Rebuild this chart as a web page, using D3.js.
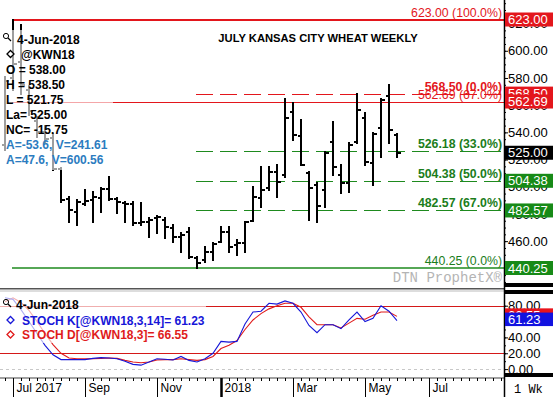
<!DOCTYPE html>
<html><head><meta charset="utf-8">
<script src="https://cdn.jsdelivr.net/npm/d3@7"></script>
<style>
html,body{margin:0;padding:0;background:#fff;}
svg{display:block;font-family:"Liberation Sans",Arial,sans-serif;}
</style></head><body><svg id="c" width="553" height="397"></svg>
<script>
// ---------- DATA ----------
const weeks = ["2017-06-26","2017-07-03","2017-07-10","2017-07-17","2017-07-24","2017-07-31","2017-08-07","2017-08-14","2017-08-21","2017-08-28",
"2017-09-04","2017-09-11","2017-09-18","2017-09-25","2017-10-02","2017-10-09","2017-10-16","2017-10-23","2017-10-30","2017-11-06",
"2017-11-13","2017-11-20","2017-11-27","2017-12-04","2017-12-11","2017-12-18","2017-12-25","2018-01-01","2018-01-08","2018-01-15",
"2018-01-22","2018-01-29","2018-02-05","2018-02-12","2018-02-19","2018-02-26","2018-03-05","2018-03-12","2018-03-19","2018-03-26",
"2018-04-02","2018-04-09","2018-04-16","2018-04-23","2018-04-30","2018-05-07","2018-05-14","2018-05-21","2018-05-28","2018-06-04"];
const openP  = [531,580,592,571,548,540,536,513,491,481.7,487.5,490.2,491.5,498.3,490.8,488,487.5,473.6,474.3,476.8,475.5,470,463.3,467,447.4,446.5,452,459.6,467,457.2,458.4,475,491.5,498.9,511.1,508.6,555,537,510,501.3,497.6,533.1,508.6,502.5,533,550.3,517.2,543,567,538];
const highP  = [581,623,619,574,551.5,545,539,513.6,492.7,490.2,497.6,496.4,498.9,507.4,491.5,489,489,487.8,476.8,478.5,476.8,471.9,465.8,469.4,448.6,455.9,458.4,470.6,470.6,460.8,474.3,500,514.7,514.7,516,564.5,561.4,549,511,502.5,525.8,547.8,516,532,568.5,554,539.3,564.3,574.8,538.5];
const lowP   = [527,571,568,553,536.8,532,512,489,474.3,471.9,486.6,474.3,481.7,490.2,480.5,474.3,472,472,463.3,465.8,462.1,459.6,452.2,447.4,440.25,444.9,446.1,459.6,452.2,449.8,452.2,474.5,485.3,497.6,492.7,507.4,534.4,516,475.5,474.3,485.3,508.6,495.2,496.4,532,516,501.3,522.1,532,521.75];
const closeP = [578,590,575,556,540,535,513,490.2,483,489,489.5,492.7,498,491,489,487,473.5,474.3,475.5,478,470.6,463.3,464.5,448,444,452,458,467,455.9,458.4,474,492.7,497.6,511,503.7,550.3,538,516,499,485.8,525,514.7,502.5,530.7,556.4,518.4,539,563.8,541.5,525];
const stochK = [90,88,75,60,45,30,18,12,12,12,12,13.5,14.5,14,13,10,6,5,9,13,12.5,11.5,16,11,9,13,20,35,34,35,57,72,73,83,82,86,83,72,55,46,56,56,51,62,72,60,64,80,73,61.23];
const stochD = [85,90,84,74,60,45,31,20,14,13,13,13,13.5,14,13.5,11,9,8,9,11.5,12,12,13,12,11,12,16,26,30,36,50,62,70,76,80,83,83,78,66,56,56,56,52,58,64,63,68,72,72,66.55];

const priceTicks = [440,460,480,500,520,540,560,580,600,620];
const stochTicks = [0,20,40,60,80];
const monthTickDates = ["2017-07-03","2017-09-04","2017-11-06","2018-01-01","2018-03-05","2018-05-07","2018-07-02"];
const monthTickLabels = ["Jul 2017","Sep","Nov","2018","Mar","May","Jul"];

const fibValues   = [623, 568.5, 562.69, 526.18, 504.38, 482.57, 440.25];
const fibPercents = ["100.0%","0.0%","67.0%","33.0%","50.0%","67.0%","0.0%"];
const fibStart    = ["2017-07-03","2017-12-11","2017-07-03","2017-12-11","2017-12-11","2017-12-11","2017-07-03"];
const boxValues   = [623, 568.5, 562.69, 525, 504.38, 482.57, 440.25];
const stochBoxValues = [66.55, 61.23];

const legendLines = ["O = 538.00","H = 538.50","L = 521.75","La= 525.00","NC= -15.75"];
const legendBlue  = ["A=-53.6, V=241.61","A=47.6, V=600.56"];

// ---------- STYLES ----------
const RED = "#e3161c", GREEN = "#1e8a1e", GREENTXT = "#1b7d1b", BLUE_K = "#1616d8", LEG_BLUE = "#2c7cc0";
const fibStyle = [
  {c:RED, dash:null, w:2, bold:false},
  {c:RED, dash:"17,7", w:1, bold:true},
  {c:RED, dash:null, w:1, bold:false},
  {c:GREEN, dash:"17,7", w:1, bold:true, tc:GREENTXT},
  {c:GREEN, dash:"17,7", w:1, bold:true, tc:GREENTXT},
  {c:GREEN, dash:"17,7", w:1, bold:true, tc:GREENTXT},
  {c:GREEN, dash:null, w:1.5, bold:false, tc:GREENTXT}
];
const boxColor = [RED, RED, RED, "#000", "#178a17", "#178a17", "#178a17"];

// ---------- SCALES ----------
const parse = d3.timeParse("%Y-%m-%d");
const dates = weeks.map(parse);
const AX = 504;
const xRef = d3.scaleTime().domain([parse("2017-07-03"), parse("2018-06-04")]).range([13, 397]);
const x = d3.scaleTime().domain([xRef.invert(0), xRef.invert(AX)]).range([0, AX]);
const y = d3.scaleLinear().domain([440.25, 623]).range([268, 19.5]);
const ys = d3.scaleLinear().domain([0, 80]).range([369.1, 305.7]);

const svg = d3.select("#c");
const defs = svg.append("defs");
defs.append("clipPath").attr("id","cm").append("rect").attr("x",0).attr("y",0).attr("width",AX).attr("height",286);
defs.append("clipPath").attr("id","cs").append("rect").attr("x",0).attr("y",292).attr("width",AX).attr("height",84);

// ---------- MAIN PANEL ----------
const gm = svg.append("g").attr("clip-path","url(#cm)");
fibValues.forEach((v,i)=>{
  const s = fibStyle[i];
  const yy = Math.round(y(v)) + (s.w===1?0.5:0);
  gm.append("line").attr("x1", Math.round(x(parse(fibStart[i])))-1).attr("x2", AX)
    .attr("y1", yy).attr("y2", yy).attr("stroke", s.c).attr("stroke-width", s.w)
    .attr("stroke-dasharray", s.dash);
});

const bars = gm.append("g").attr("stroke","#000").attr("stroke-width",2).attr("shape-rendering","crispEdges");
dates.forEach((d,i)=>{
  const xx = Math.round(x(d));
  bars.append("line").attr("x1",xx).attr("x2",xx).attr("y1",y(highP[i])-1).attr("y2",y(lowP[i])+1);
  bars.append("line").attr("x1",xx-3).attr("x2",xx).attr("y1",Math.round(y(openP[i]))).attr("y2",Math.round(y(openP[i])));
  bars.append("line").attr("x1",xx).attr("x2",xx+4).attr("y1",Math.round(y(closeP[i]))).attr("y2",Math.round(y(closeP[i])));
});

// legend overlay (main)
svg.append("rect").attr("x",0).attr("y",30).attr("width",113).attr("height",140).attr("fill","#fff").attr("fill-opacity",0.62);
function magnifier(g, cx, cy){
  g.append("circle").attr("cx",cx).attr("cy",cy).attr("r",2.6).attr("fill","none").attr("stroke","#000").attr("stroke-width",1);
  g.append("line").attr("x1",cx+2).attr("y1",cy+2).attr("x2",cx+5).attr("y2",cy+5).attr("stroke","#000").attr("stroke-width",1.3);
}
function diamond(g, cx, cy, col){
  g.append("path").attr("d",`M${cx},${cy-3.5}L${cx+3.5},${cy}L${cx},${cy+3.5}L${cx-3.5},${cy}Z`)
    .attr("fill","#fff").attr("stroke",col).attr("stroke-width",1.3);
}
const lg = svg.append("g").attr("font-size",12).attr("font-weight","bold");
magnifier(lg, 6, 36);
lg.append("text").attr("x",17).attr("y",43.5).text("4-Jun-2018");
diamond(lg, 10.5, 54, "#000");
lg.append("text").attr("x",21).attr("y",58.5).text("@KWN18");
legendLines.forEach((t,i)=> lg.append("text").attr("x",6).attr("y",73.5+15*i).text(t));
legendBlue.forEach((t,i)=> lg.append("text").attr("x",6).attr("y",148.5+15*i).attr("fill",LEG_BLUE).text(t));

// fib labels
fibValues.forEach((v,i)=>{
  const s = fibStyle[i];
  svg.append("text").attr("x",502).attr("y",y(v)-3).attr("text-anchor","end")
    .attr("font-size",12.3).attr("font-weight", s.bold?"bold":"normal")
    .attr("fill", s.tc || s.c).text(d3.format(".2f")(v)+" ("+fibPercents[i]+")");
});

// title
svg.append("text").attr("x",318).attr("y",42).attr("text-anchor","middle").attr("font-size",11.2)
  .attr("font-weight","bold").text("JULY KANSAS CITY WHEAT WEEKLY");
// watermark
svg.append("text").attr("x",502).attr("y",282).attr("text-anchor","end").attr("font-family","'Liberation Mono',monospace")
  .attr("font-size",14).attr("fill","#b4b4b4").text("DTN ProphetX\u00AE");

// ---------- STOCH PANEL ----------
const gs = svg.append("g").attr("clip-path","url(#cs)");
[80,20].forEach(v=>{
  gs.append("line").attr("x1",0).attr("x2",AX).attr("y1",Math.round(ys(v))+0.5).attr("y2",Math.round(ys(v))+0.5)
    .attr("stroke","#d41818").attr("stroke-width",1);
});
gs.append("line").attr("x1",0).attr("x2",AX).attr("y1",Math.round(ys(0))+0.5).attr("y2",Math.round(ys(0))+0.5)
  .attr("stroke","#c8c8c8").attr("stroke-dasharray","3,3");
const lineK = d3.line().x((d,i)=>x(dates[i])).y(d=>ys(d));
gs.append("path").attr("d", lineK(stochD)).attr("fill","none").attr("stroke","#e01b1b").attr("stroke-width",1.1);
gs.append("path").attr("d", lineK(stochK)).attr("fill","none").attr("stroke",BLUE_K).attr("stroke-width",1.1);

svg.append("rect").attr("x",0).attr("y",295).attr("width",206).attr("height",48).attr("fill","#fff").attr("fill-opacity",0.65);
const ls = svg.append("g").attr("font-size",12).attr("font-weight","bold");
magnifier(ls, 6, 302);
ls.append("text").attr("x",16).attr("y",308.5).text("4-Jun-2018");
diamond(ls, 10.5, 320, BLUE_K);
ls.append("text").attr("x",22).attr("y",324.5).attr("fill",BLUE_K).text("STOCH K[@KWN18,3,14]= " + d3.format(".2f")(stochK[stochK.length-1]));
diamond(ls, 10.5, 334.5, "#e01b1b");
ls.append("text").attr("x",22).attr("y",339).attr("fill","#e01b1b").text("STOCH D[@KWN18,3]= " + d3.format(".2f")(stochD[stochD.length-1]));

// ---------- FRAMES ----------
svg.append("rect").attr("x",0).attr("y",288).attr("width",AX).attr("height",1.5).attr("fill","#555");
svg.append("rect").attr("x",0).attr("y",290.5).attr("width",AX).attr("height",1).attr("fill","#bbb");
svg.append("rect").attr("x",AX).attr("y",283).attr("width",553-AX).attr("height",4).attr("fill","#000");
svg.append("rect").attr("x",AX).attr("y",290).attr("width",553-AX).attr("height",4).attr("fill","#000");
svg.append("rect").attr("x",AX).attr("y",373).attr("width",553-AX).attr("height",4).attr("fill","#000");
svg.append("rect").attr("x",0).attr("y",377.5).attr("width",AX).attr("height",1).attr("fill","#444");

// ---------- RIGHT AXES ----------
const fmt2 = d3.format(".2f");
const ayMinor = svg.append("g").attr("transform",`translate(${AX},0)`)
  .call(d3.axisRight(y).tickValues(d3.range(430, 640, 5)).tickSize(2).tickFormat(""));
const ay = svg.append("g").attr("transform",`translate(${AX},0)`)
  .call(d3.axisRight(y).tickValues(priceTicks).tickSize(4).tickPadding(0).tickFormat(fmt2));
const ays = svg.append("g").attr("transform",`translate(${AX},0)`)
  .call(d3.axisRight(ys).tickValues(stochTicks).tickSize(4).tickPadding(0).tickFormat(fmt2));
const aysMinor = svg.append("g").attr("transform",`translate(${AX},0)`)
  .call(d3.axisRight(ys).tickValues(d3.range(0, 90, 10)).tickSize(2).tickFormat(""));
[ay, ays, ayMinor, aysMinor].forEach(g=>{
  g.select(".domain").remove();
  g.selectAll("text").attr("font-size",13).attr("font-family","'Liberation Sans',Arial,sans-serif").attr("fill","#000").attr("x",4);
  g.selectAll("line").attr("stroke","#000");
});
ay.selectAll(".tick").filter(d=> y(d) > 286 || y(d) < 0).remove();
ayMinor.selectAll(".tick").filter(d=> y(d) > 283 || y(d) < 0).remove();
svg.append("line").attr("x1",AX+0.5).attr("x2",AX+0.5).attr("y1",0).attr("y2",397).attr("stroke","#000").attr("stroke-width",1.5);

// price boxes
boxValues.forEach((v,i)=>{
  const cy = y(v);
  svg.append("rect").attr("x",AX+1).attr("y",cy-7).attr("width",553-AX-1).attr("height",14).attr("fill",boxColor[i]);
  svg.append("text").attr("x",AX+4).attr("y",cy+4.7).attr("font-size",13).attr("fill","#fff").text(fmt2(v));
});
const sBoxColor = ["#e8141c", "#1212e0"];
stochBoxValues.forEach((v,i)=>{
  const cy = ys(v) - 1.5;
  svg.append("rect").attr("x",AX+1).attr("y",cy-6.5).attr("width",553-AX-1).attr("height",13.5).attr("fill",sBoxColor[i]);
  svg.append("text").attr("x",AX+4).attr("y",cy+4.7).attr("font-size",13).attr("fill","#fff").text(fmt2(v));
});

// ---------- BOTTOM AXIS ----------
const axMinor = svg.append("g").attr("transform","translate(0,378)")
  .call(d3.axisBottom(x).tickValues(d3.timeMonday.range(x.domain()[0], x.domain()[1])).tickSize(3).tickFormat(""));
const ax = svg.append("g").attr("transform","translate(0,378)")
  .call(d3.axisBottom(x).tickValues(monthTickDates.map(parse)).tickSize(19).tickFormat((d,i)=>monthTickLabels[i]));
[ax, axMinor].forEach(g=>{
  g.select(".domain").remove();
  g.selectAll("line").attr("stroke","#000");
});
ax.selectAll("text").attr("x",3).attr("y",5).attr("dy","0.71em").attr("text-anchor","start")
  .attr("font-size",12).attr("font-family","'Liberation Sans',Arial,sans-serif").attr("fill","#000");
ax.selectAll(".tick line").attr("stroke-width",(d,i)=> monthTickLabels[i]==="2018" ? 2.5 : 1);
svg.append("text").attr("x",514).attr("y",392.5).attr("font-family","'Liberation Mono',monospace").attr("font-size",12).text("1 Wk");
</script></body></html>
